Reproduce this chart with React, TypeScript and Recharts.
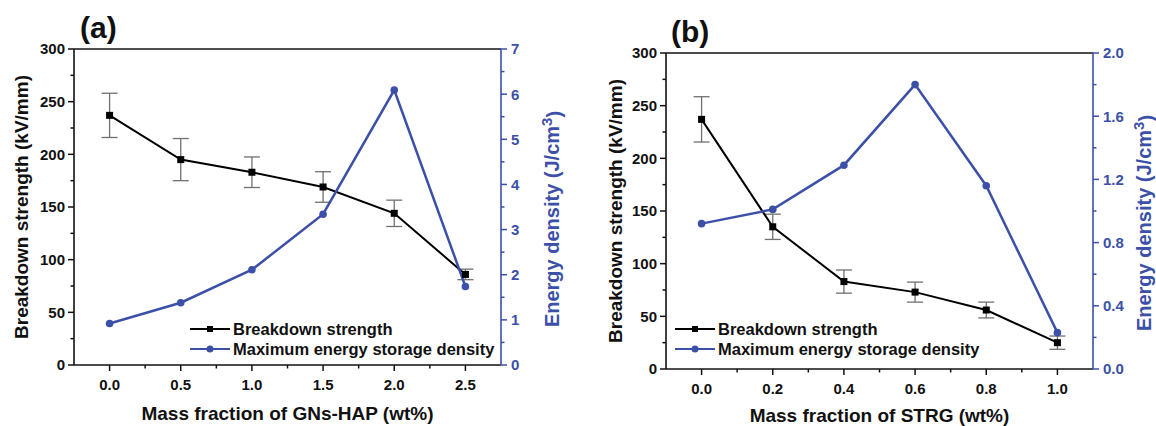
import React from 'react';
import {
  ComposedChart,
  Line,
  XAxis,
  YAxis,
  ErrorBar,
  ReferenceLine,
  Legend,
} from 'recharts';

// panel (a): GNs-HAP
const xA = [0, 0.5, 1.0, 1.5, 2.0, 2.5];
const bdA = [237, 195, 183, 169, 144, 86];
const bdErrA = [21, 20, 14.5, 14.5, 12.5, 5];
const edA = [0.92, 1.38, 2.11, 3.34, 6.09, 1.74];

// panel (b): STRG
const xB = [0, 0.2, 0.4, 0.6, 0.8, 1.0];
const bdB = [237, 135, 83, 73, 56, 25];
const bdErrB = [21.5, 12, 11, 9.5, 7.5, 6.3];
const edB = [0.92, 1.01, 1.29, 1.8, 1.16, 0.23];

// ticks
const xTicksA = [0, 0.5, 1.0, 1.5, 2.0, 2.5];
const xMinorA = [0.25, 0.75, 1.25, 1.75, 2.25];
const xTicksB = [0, 0.2, 0.4, 0.6, 0.8, 1.0];
const xMinorB = [0.1, 0.3, 0.5, 0.7, 0.9];
const bdTicks = [0, 50, 100, 150, 200, 250, 300];
const bdMinor = [25, 75, 125, 175, 225, 275];
const edTicksA = [0, 1, 2, 3, 4, 5, 6, 7];
const edMinorA = [0.5, 1.5, 2.5, 3.5, 4.5, 5.5, 6.5];
const edTicksB = [0, 0.4, 0.8, 1.2, 1.6, 2.0];
const edMinorB = [0.2, 0.6, 1.0, 1.4, 1.8];

const BLUE = '#3C50A8';
const BLACK = '#111';
const FONT = '"Liberation Sans", Arial, sans-serif';
const TS = 6;
const TM = 3;
const TICK_FS = 15;

const sortNum = (a: number[]) => [...a].sort((p, q) => p - q);

function makeTick(side: 'left' | 'right' | 'bottom', major: number[], color: string, digits: number) {
  return (props: any) => {
    const { x, y, payload } = props;
    const v = payload.value as number;
    const isMajor = major.some(m => Math.abs(m - v) < 1e-9);
    const len = isMajor ? 6 : 3.5;
    const label = isMajor ? v.toFixed(digits) : '';
    if (side === 'left') {
      const ax = x + TS + TM;
      return (
        <g>
          <line x1={ax - len} y1={y} x2={ax} y2={y} stroke={color} strokeWidth={1.5} />
          <text x={x} y={y} dy="0.36em" textAnchor="end" fill={color} fontSize={TICK_FS} fontWeight={700} fontFamily={FONT}>{label}</text>
        </g>
      );
    }
    if (side === 'right') {
      const ax = x - TS - TM;
      return (
        <g>
          <line x1={ax} y1={y} x2={ax + len} y2={y} stroke={color} strokeWidth={1.5} />
          <text x={x + 1} y={y} dy="0.36em" textAnchor="start" fill={color} fontSize={TICK_FS} fontWeight={700} fontFamily={FONT}>{label}</text>
        </g>
      );
    }
    const ay = y - TS - TM;
    return (
      <g>
        <line x1={x} y1={ay} x2={x} y2={ay + len} stroke={color} strokeWidth={1.5} />
        <text x={x} y={y + 5} dy="0.71em" textAnchor="middle" fill={color} fontSize={TICK_FS} fontWeight={700} fontFamily={FONT}>{label}</text>
      </g>
    );
  };
}

const Square = (p: any) => {
  if (p.cx == null || p.cy == null) return <g key={`s-${p.index}`} />;
  return <rect key={`s-${p.index}`} x={p.cx - 3.5} y={p.cy - 3.5} width={7} height={7} fill="#000" />;
};

function renderLegend(payload: any[]) {
  return (
    <div style={{ fontFamily: FONT, fontWeight: 700, fontSize: 16.5, color: BLACK }}>
      {(payload || []).map((it: any) => {
        const isBd = it.dataKey === 'bd';
        const c = isBd ? '#000' : BLUE;
        return (
          <div key={it.dataKey} style={{ display: 'flex', alignItems: 'center', height: 20 }}>
            <svg width={40} height={20}>
              <line x1={0} y1={10} x2={40} y2={10} stroke={c} strokeWidth={2.2} />
              {isBd ? <rect x={17} y={7} width={6} height={6} fill="#000" /> : <circle cx={20} cy={10} r={3.5} fill={BLUE} />}
            </svg>
            <span style={{ marginLeft: 3, whiteSpace: 'nowrap', lineHeight: '20px' }}>{it.value}</span>
          </div>
        );
      })}
    </div>
  );
}

const VTitle = (props: any) => {
  const { viewBox, off, dyc, text, color, size, sup } = props;
  const cx = viewBox.x + off;
  const cy = viewBox.y + viewBox.height / 2 + (dyc || 0);
  return (
    <text x={cx} y={cy} dy="0.36em" transform={`rotate(-90 ${cx} ${cy})`} textAnchor="middle"
      fill={color} fontSize={size} fontWeight={700} fontFamily={FONT}>
      {text}
      {sup ? <tspan dy="-0.45em" fontSize={size * 0.75}>3</tspan> : null}
      {sup ? <tspan dy="0.45em">)</tspan> : null}
    </text>
  );
};

const HTitle = (props: any) => {
  const { viewBox, base, text } = props;
  return (
    <text x={viewBox.x + viewBox.width / 2} y={viewBox.y + base} textAnchor="middle" fill={BLACK}
      fontSize={19} fontWeight={700} fontFamily={FONT}>{text}</text>
  );
};

interface PanelProps {
  left: number;
  xs: number[];
  bd: number[];
  err: number[];
  ed: number[];
  xDomain: [number, number];
  xTicks: number[];
  xMinor: number[];
  edMax: number;
  edTicks: number[];
  edMinor: number[];
  edDigits: number;
  xTitle: string;
  tag: string;
  leftW: number;
  rightW: number;
  top: number;
  xH: number;
  leftOff: number;
  rightOff: number;
  titleBase: number;
  legendLeft: number;
  tagLeft: number;
  tagTop: number;
}

function Panel(p: PanelProps) {
  const data = p.xs.map((x, i) => ({ x, bd: p.bd[i], err: p.err[i], ed: p.ed[i] }));
  return (
    <div style={{ position: 'absolute', left: p.left, top: 0, width: 578, height: 426 }}>
      <ComposedChart width={578} height={426} data={data} margin={{ top: p.top, right: 0, bottom: 0, left: 0 }}>
        <XAxis
          type="number"
          dataKey="x"
          domain={p.xDomain}
          ticks={sortNum([...p.xTicks, ...p.xMinor])}
          interval={0}
          height={p.xH}
          tickSize={TS}
          tickMargin={TM}
          tickLine={false}
          axisLine={{ stroke: BLACK, strokeWidth: 1.6 }}
          tick={makeTick('bottom', p.xTicks, BLACK, 1)}
          label={{ content: (lp: any) => <HTitle {...lp} base={p.titleBase} text={p.xTitle} /> }}
        />
        <YAxis
          yAxisId="left"
          orientation="left"
          domain={[0, 300]}
          ticks={sortNum([...bdTicks, ...bdMinor])}
          interval={0}
          width={p.leftW}
          tickSize={TS}
          tickMargin={TM}
          tickLine={false}
          axisLine={{ stroke: BLACK, strokeWidth: 1.6 }}
          tick={makeTick('left', bdTicks, BLACK, 0)}
          label={{ content: (lp: any) => <VTitle {...lp} off={p.leftOff} text="Breakdown strength (kV/mm)" color={BLACK} size={19} /> }}
        />
        <YAxis
          yAxisId="right"
          orientation="right"
          domain={[0, p.edMax]}
          ticks={sortNum([...p.edTicks, ...p.edMinor])}
          interval={0}
          width={p.rightW}
          tickSize={TS}
          tickMargin={TM}
          tickLine={false}
          axisLine={{ stroke: BLUE, strokeWidth: 1.6 }}
          tick={makeTick('right', p.edTicks, BLUE, p.edDigits)}
          label={{ content: (lp: any) => <VTitle {...lp} off={p.rightOff} dyc={12} text="Energy density (J/cm" sup color={BLUE} size={20} /> }}
        />
        <ReferenceLine yAxisId="left" y={300} stroke={BLACK} strokeWidth={1.6} />
        <Line
          yAxisId="left"
          dataKey="bd"
          name="Breakdown strength"
          type="linear"
          stroke="#000"
          strokeWidth={2}
          dot={Square}
          activeDot={false}
          isAnimationActive={false}
        >
          <ErrorBar dataKey="err" direction="y" width={8} stroke="#707070" strokeWidth={1.3} />
        </Line>
        <Line
          yAxisId="right"
          dataKey="ed"
          name="Maximum energy storage density"
          type="linear"
          stroke={BLUE}
          strokeWidth={2.5}
          dot={{ r: 3.8, fill: BLUE, stroke: BLUE, strokeWidth: 0 }}
          activeDot={false}
          isAnimationActive={false}
        />
        <Legend
          layout="vertical"
          align="center"
          verticalAlign="middle"
          wrapperStyle={{ left: p.legendLeft, top: 319, width: 'auto' }}
          content={(lp: any) => renderLegend(lp.payload)}
        />
      </ComposedChart>
      <div style={{ position: 'absolute', left: p.tagLeft, top: p.tagTop, fontFamily: FONT, fontWeight: 700, fontSize: 30, lineHeight: 1, color: BLACK }}>
        {p.tag}
      </div>
    </div>
  );
}

export default function App() {
  return (
    <div style={{ position: 'absolute', left: 0, top: 0, width: 1156, height: 426, background: '#fff', overflow: 'hidden' }}>
      <Panel
        left={0}
        xs={xA}
        bd={bdA}
        err={bdErrA}
        ed={edA}
        xDomain={[-0.25, 2.75]}
        xTicks={xTicksA}
        xMinor={xMinorA}
        edMax={7}
        edTicks={edTicksA}
        edMinor={edMinorA}
        edDigits={0}
        xTitle="Mass fraction of GNs-HAP (wt%)"
        tag="(a)"
        leftW={74}
        rightW={77}
        top={49}
        xH={61}
        leftOff={21.5}
        rightOff={51}
        titleBase={55}
        legendLeft={190}
        tagLeft={80}
        tagTop={13}
      />
      <Panel
        left={578}
        xs={xB}
        bd={bdB}
        err={bdErrB}
        ed={edB}
        xDomain={[-0.1, 1.1]}
        xTicks={xTicksB}
        xMinor={xMinorB}
        edMax={2}
        edTicks={edTicksB}
        edMinor={edMinorB}
        edDigits={1}
        xTitle="Mass fraction of STRG (wt%)"
        tag="(b)"
        leftW={88}
        rightW={63}
        top={53}
        xH={57}
        leftOff={37}
        rightOff={51}
        titleBase={53}
        legendLeft={97}
        tagLeft={93}
        tagTop={17}
      />
    </div>
  );
}
